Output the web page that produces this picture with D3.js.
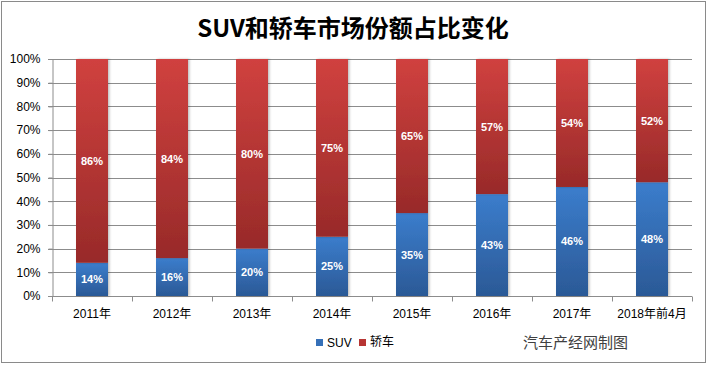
<!DOCTYPE html>
<html><head><meta charset="utf-8">
<script src="https://cdn.jsdelivr.net/npm/d3@7"></script>
<style>body{margin:0;background:#fff}svg{display:block}</style>
</head><body>
<script>
const categories = ["2011年","2012年","2013年","2014年","2015年","2016年","2017年","2018年前4月"];
const suv = [14,16,20,25,35,43,46,48];
const sedan = [86,84,80,75,65,57,54,52];
const yTicks = [0,10,20,30,40,50,60,70,80,90,100];
const seriesNames = ["SUV","轿车"];

const W=708,H=365;
const m={l:52,r:16,t:59,b:69};
const svg=d3.select("body").append("svg").attr("width",W).attr("height",H);
const defs=svg.append("defs");
const gR=defs.append("linearGradient").attr("id","gR").attr("x1",0).attr("y1",0).attr("x2",0).attr("y2",1);
gR.append("stop").attr("offset","0%").attr("stop-color","#d0413f");
gR.append("stop").attr("offset","100%").attr("stop-color","#982a29");
const gB=defs.append("linearGradient").attr("id","gB").attr("x1",0).attr("y1",0).attr("x2",0).attr("y2",1);
gB.append("stop").attr("offset","0%").attr("stop-color","#3b7dcc");
gB.append("stop").attr("offset","100%").attr("stop-color","#2b5996");
const sh=defs.append("filter").attr("id","sh").attr("x","-20%").attr("y","-5%").attr("width","150%").attr("height","110%");
sh.append("feDropShadow").attr("dx",1.5).attr("dy",0).attr("stdDeviation",1).attr("flood-color","#000").attr("flood-opacity",0.25);

svg.append("rect").attr("x",1.5).attr("y",1.5).attr("width",W-4).attr("height",H-4)
  .attr("fill","#fff").attr("stroke","#8a8a8a").attr("stroke-width",1);

const x=d3.scaleBand().domain(categories).range([m.l,W-m.r]).paddingInner(0.6).paddingOuter(0.3);
const y=d3.scaleLinear().domain([0,100]).range([H-m.b,m.t]);

// gridlines
svg.append("g").selectAll("line").data(yTicks).join("line")
  .attr("x1",m.l-4).attr("x2",W-m.r).attr("y1",d=>Math.round(y(d))+0.5).attr("y2",d=>Math.round(y(d))+0.5)
  .attr("stroke","#8c8c8c").attr("stroke-width",1);
// y axis
const yAx=svg.append("g").attr("transform",`translate(${m.l+0.5},0)`)
  .call(d3.axisLeft(y).tickValues(yTicks).tickFormat(d=>d+"%").tickSize(4).tickPadding(8));
yAx.select(".domain").attr("stroke","#8c8c8c");
yAx.selectAll(".tick line").attr("stroke","#8c8c8c");
yAx.selectAll("text").attr("font-family","'Liberation Sans','Noto Sans CJK SC'").attr("font-size",12).attr("fill","#000");

// x axis
const xb=svg.append("g").attr("transform",`translate(0,${Math.round(y(0))+0.5})`);
xb.append("line").attr("x1",m.l).attr("x2",W-m.r).attr("stroke","#8c8c8c");
const bounds=categories.map((c,i)=>x(c)-x.step()*0.3).concat([W-m.r]);
xb.selectAll("line.t").data(bounds).join("line").attr("class","t")
  .attr("x1",d=>Math.round(d)+0.5).attr("x2",d=>Math.round(d)+0.5).attr("y1",0).attr("y2",5).attr("stroke","#8c8c8c");
svg.append("g").selectAll("text").data(categories).join("text")
  .attr("x",d=>x(d)+x.bandwidth()/2).attr("y",318).attr("text-anchor","middle")
  .attr("font-family","'Liberation Sans','Noto Sans CJK SC'").attr("font-size",12).attr("fill","#000").text(d=>d);

// bars
const bars=svg.append("g");
categories.forEach((c,i)=>{
  bars.append("rect").attr("x",x(c)).attr("width",x.bandwidth())
    .attr("y",y(suv[i])).attr("height",y(0)-y(suv[i])).attr("fill","url(#gB)").attr("filter","url(#sh)");
  bars.append("rect").attr("x",x(c)).attr("width",x.bandwidth())
    .attr("y",y(100)).attr("height",y(suv[i])-y(100)).attr("fill","url(#gR)").attr("filter","url(#sh)");
});
const lab=svg.append("g").attr("font-family","'Liberation Sans',sans-serif").attr("font-size",11)
  .attr("font-weight","bold").attr("fill","#fff").attr("text-anchor","middle");
categories.forEach((c,i)=>{
  lab.append("text").attr("x",x(c)+x.bandwidth()/2).attr("y",y(suv[i]/2)+4).text(suv[i]+"%");
  lab.append("text").attr("x",x(c)+x.bandwidth()/2).attr("y",y(suv[i]+sedan[i]/2)+4).text(sedan[i]+"%");
});

// title
svg.append("text").attr("x",353).attr("y",37).attr("text-anchor","middle")
  .attr("font-family","'Noto Sans CJK SC'").attr("font-weight","bold").attr("font-size",24).attr("fill","#000")
  .text("SUV和轿车市场份额占比变化");

// legend
const lg=svg.append("g").attr("font-family","'Liberation Sans','Noto Sans CJK SC'").attr("font-size",12).attr("fill","#000");
lg.append("rect").attr("x",316).attr("y",339).attr("width",7).attr("height",7).attr("fill","#3570b8");
lg.append("text").attr("x",327).attr("y",347).text(seriesNames[0]);
lg.append("rect").attr("x",359).attr("y",339).attr("width",7).attr("height",7).attr("fill","#b73533");
lg.append("text").attr("x",370).attr("y",346).text(seriesNames[1]);

svg.append("text").attr("x",523).attr("y",348).attr("font-family","'Noto Sans CJK SC'").attr("font-size",15)
  .attr("fill","#404040").text("汽车产经网制图");
</script>
</body></html>
